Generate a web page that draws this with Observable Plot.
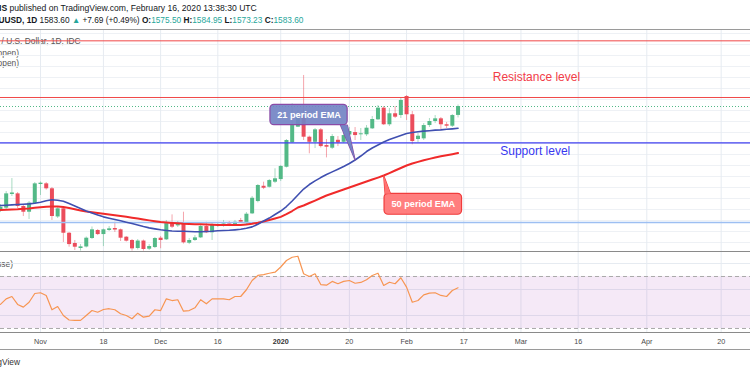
<!DOCTYPE html>
<html><head><meta charset="utf-8">
<script src="https://cdn.jsdelivr.net/npm/d3@7"></script>
<script src="https://cdn.jsdelivr.net/npm/@observablehq/plot@0.6"></script>
<style>
html,body{margin:0;padding:0;background:#fff;}
body{width:750px;height:375px;overflow:hidden;position:relative;font-family:"Liberation Sans",Arial,sans-serif;color:#131722;}
.a{position:absolute;white-space:nowrap;}
.hl{position:absolute;left:0;width:750px;}
.t{color:#26a69a;}
.lg{font-size:8.4px;color:#555;}
svg{background:transparent !important;}
</style></head><body>
<div class="a" id="h1" style="left:-1px;top:2.5px;font-size:8.6px;"><b>IS</b> published on TradingView.com, February 16, 2020 13:38:30 UTC</div>
<div class="a" id="h2" style="left:-13px;top:15px;font-size:8.3px;"><b>XAUUSD, 1D</b> 1583.60 <span class="t">▲</span> +7.69 (+0.49%) <b>O:</b><span class="t">1575.50</span> <b>H:</b><span class="t">1584.95</span> <b>L:</b><span class="t">1573.23</span> <b>C:</b><span class="t">1583.60</span></div>
<div class="hl" style="top:28.5px;height:1px;background:#9a9a9a;"></div>
<div class="a lg" style="left:1.5px;top:35.5px;">/ U.S. Dollar, 1D, IDC</div>
<div class="a lg" style="right:731px;top:47.5px;">EMA (21, open)</div>
<div class="a lg" style="right:731px;top:57.5px;">EMA (50, open)</div>
<div class="a lg" style="right:737px;top:258.5px;">RSI (14, close)</div>
<div class="a" id="main" style="left:0;top:30px;"></div>
<div class="hl" style="top:251px;height:1px;background:#8a8a8a;"></div>
<div class="a" id="rsi" style="left:0;top:252px;"></div>
<div class="hl" style="top:331.5px;height:1px;background:#8a8a8a;"></div>
<div class="hl" style="top:349px;height:1px;background:#9a9a9a;"></div>
<div class="a" style="right:730px;top:357px;font-size:8.4px;color:#333;">TradingView</div>
<script>
// ---- data (bar index 0 = 1 Nov 2019, weekdays only) ----
const bars = d3.range(-7, 74);
const opens = [1488.5,1491.2,1503.6,1504.2,1492.7,1487.5,1495.4,1512.7,1513.3,1508.8,1483.2,1490.6,1468.4,1459.1,1454.5,1455.9,1463.6,1470.9,1467.2,1470.9,1472.7,1471.5,1464.8,1461.8,1454.5,1461.3,1453.9,1455.4,1463.9,1462.4,1477.5,1475.1,1476.9,1459.3,1461.8,1464.2,1474.5,1468.8,1475.4,1476.1,1476.9,1475.4,1480.0,1476.9,1486.0,1497.2,1511.1,1510.2,1514.8,1517.2,1528.4,1550.6,1564.8,1573.9,1555.7,1551.1,1562.4,1548.1,1545.7,1552.9,1551.1,1557.7,1559.9,1557.9,1557.9,1563.3,1571.5,1582.1,1567.0,1577.0,1575.4,1592.7,1576.1,1553.6,1554.2,1566.3,1570.0,1572.4,1567.0,1565.7,1575.5];
const highs = [1494.5,1506.3,1518.1,1505.4,1493.6,1497.2,1514.5,1515.0,1514.5,1510.0,1491.8,1491.8,1469.1,1461.8,1458.1,1465.0,1474.1,1471.8,1472.2,1474.5,1478.4,1472.2,1465.4,1462.7,1462.7,1462.2,1458.1,1464.5,1465.4,1480.0,1485.1,1479.1,1487.5,1463.6,1466.3,1476.3,1478.4,1477.7,1478.2,1480.0,1479.1,1480.0,1481.8,1487.2,1501.8,1512.7,1514.8,1517.2,1527.0,1530.0,1553.6,1586.0,1580.0,1611.8,1556.7,1563.6,1563.6,1553.6,1558.1,1556.3,1559.1,1564.5,1564.5,1563.6,1566.3,1574.5,1584.5,1583.6,1581.8,1583.6,1590.9,1593.6,1579.1,1559.1,1568.1,1572.7,1575.4,1573.6,1569.1,1576.3,1584.95];
const lows = [1487.2,1489.9,1501.8,1490.9,1483.6,1480.9,1494.5,1502.7,1507.6,1480.0,1481.8,1460.0,1455.7,1452.7,1452.2,1455.0,1462.7,1466.3,1456.3,1470.0,1469.1,1460.9,1460.4,1452.2,1453.2,1452.2,1452.7,1454.5,1454.3,1461.8,1472.7,1473.6,1458.6,1458.1,1460.9,1463.6,1468.1,1461.8,1473.6,1473.9,1474.5,1474.5,1477.3,1476.3,1485.4,1496.0,1508.1,1509.5,1513.6,1515.4,1527.7,1550.0,1564.5,1552.7,1540.6,1545.4,1545.9,1536.9,1544.5,1547.2,1550.0,1556.3,1552.7,1552.7,1556.3,1562.7,1570.9,1566.3,1565.4,1572.7,1572.7,1570.9,1548.8,1550.6,1552.7,1564.5,1568.1,1561.8,1563.6,1564.5,1573.23];
const closes = [1492.1,1504.2,1505.0,1492.7,1487.5,1495.7,1513.3,1513.9,1508.8,1483.6,1490.6,1468.4,1458.1,1455.7,1456.0,1463.9,1471.5,1467.2,1471.5,1472.4,1471.3,1463.9,1461.2,1454.2,1461.3,1453.6,1456.3,1463.6,1461.8,1477.5,1473.9,1476.9,1459.7,1461.8,1464.2,1474.5,1468.8,1476.1,1476.1,1476.6,1476.3,1478.4,1478.4,1485.7,1500.2,1511.8,1509.3,1516.3,1517.9,1529.1,1552.7,1566.3,1573.9,1555.7,1551.1,1562.4,1547.2,1546.6,1556.3,1550.6,1557.2,1560.9,1557.2,1558.8,1563.9,1571.8,1582.1,1567.0,1577.0,1573.9,1589.1,1576.1,1551.8,1556.6,1566.3,1570.0,1572.4,1567.0,1565.7,1575.4,1583.6];
const ema21 = [1493.6,1493.9,1494.2,1494.5,1494.8,1495.1,1495.7,1496.6,1497.9,1498.8,1498.4,1497.5,1495.4,1493.1,1490.9,1488.6,1486.8,1485.0,1483.3,1482.1,1480.9,1479.7,1478.4,1477.2,1475.9,1474.5,1473.3,1472.4,1471.5,1470.9,1470.4,1470.2,1470.2,1470.0,1469.7,1469.7,1470.0,1470.2,1470.6,1470.9,1471.1,1471.5,1472.0,1473.0,1474.2,1476.6,1479.5,1482.2,1485.4,1488.6,1492.7,1497.7,1503.1,1508.6,1512.7,1516.0,1519.0,1521.8,1524.2,1526.6,1529.1,1531.8,1535.0,1538.6,1542.7,1545.9,1548.6,1551.3,1553.6,1555.4,1557.2,1559.1,1560.0,1560.7,1561.2,1561.6,1562.1,1562.4,1562.9,1563.3,1563.8];
const ema50 = [1489.5,1489.7,1490.0,1490.2,1490.6,1490.9,1491.5,1492.1,1492.4,1492.7,1492.7,1492.2,1491.3,1490.2,1489.1,1488.1,1487.4,1486.8,1486.1,1485.4,1484.8,1484.0,1483.3,1482.5,1481.8,1480.9,1480.1,1479.3,1478.6,1478.1,1477.7,1477.4,1477.0,1476.8,1476.6,1476.5,1476.3,1476.1,1476.0,1475.9,1475.9,1475.9,1476.0,1476.3,1477.0,1477.9,1479.0,1480.4,1481.8,1483.3,1485.7,1488.6,1491.8,1493.6,1495.9,1498.1,1500.4,1502.7,1504.5,1506.3,1508.1,1510.0,1511.8,1513.6,1515.4,1517.2,1519.0,1520.9,1523.1,1525.4,1527.7,1530.0,1531.8,1533.3,1534.8,1536.0,1537.2,1538.3,1539.3,1540.3,1541.3];
const rsi = [48.5,52.8,54.6,48.5,46.4,50.2,56.9,57.5,55.4,44.4,46.9,40.0,36.5,36.2,36.2,40.0,43.8,42.5,44.6,45.2,44.4,41.3,40.0,37.5,41.8,38.7,39.5,44.4,43.8,52.8,51.5,52.1,43.3,43.8,45.9,52.1,49.0,52.8,52.8,52.8,52.1,54.6,54.6,59.8,66.9,70.8,71.5,72.5,73.3,77.3,82.3,84.8,85.6,72.1,70.0,72.1,63.8,63.3,66.2,64.4,66.2,66.9,64.8,65.4,67.5,70.8,72.5,63.1,65.6,64.4,69.0,61.8,50.2,51.5,55.9,57.2,57.5,55.4,54.6,59.2,61.3];
const tickBars = [0,11,21,31,42,54,64,74,84,94,106,119];
const tickLabels = ["Nov","18","Dec","16","2020","20","Feb","17","Mar","16","Apr","20"];
const levelPrices = [1643.3, 1591.8, 1550.6, 1478.1]; // top line, resistance, support, lower line
const lastClose = 1583.6;
const levelLabels = ["Resistance level", "Support level"];
const levelLabelBar = [86.7, 86.5];
const levelLabelPrice = [1610.2, 1543.2];
const calloutLabels = ["21 period EMA", "50 period EMA"];
const calloutBox = [[40.2, 53.7, 1566.6, 1585.1], [60.15, 73.7, 1485.2, 1504.2]]; // bar1, bar2, price1, price2
const calloutTipBar = [55, 60];
const calloutBaseBars = [[52.45, 53.65], [60.25, 61.2]];
const rsiBand = [30, 70];

// ---- scales / helpers ----
const xDomain = [-6.993, 124.13];
const W = 750;
const UP = "#53b987", DOWN = "#eb4d5c";
const candles = bars.map((b, i) => ({bar: b, o: opens[i], h: highs[i], l: lows[i], c: closes[i]}));
const ema21Data = bars.map((b, i) => ({bar: b, v: ema21[i]}));
const ema50Data = bars.map((b, i) => ({bar: b, v: ema50[i]}));
const rsiData = bars.map((b, i) => ({bar: b, v: rsi[i]}));
const bodyEnd = d => Math.abs(d.c - d.o) < 0.8 ? d.o + (d.c >= d.o ? 0.8 : -0.8) : d.c;
const upC = candles.filter(d => d.c >= d.o), dnC = candles.filter(d => d.c < d.o);
const gridPrices = d3.range(1460, 1660, 10);

const callouts = calloutLabels.map((t, k) => {
  const tipBar = calloutTipBar[k];
  const tipVal = (k === 0 ? ema21 : ema50)[bars.indexOf(tipBar)];
  const [b1, b2, p1, p2] = calloutBox[k];
  const baseP = k === 0 ? p1 : p2;
  const tail = [{x: calloutBaseBars[k][0], y: baseP}, {x: tipBar, y: tipVal}, {x: calloutBaseBars[k][1], y: baseP}];
  return {t, b1, b2, p1, p2, tail};
});
const calloutStyle = [{fill: "#7384c4", stroke: "#8a4aa6"}, {fill: "#ff7373", stroke: "#f03c3c"}];

const calloutMarks = callouts.flatMap((c, k) => [
  Plot.line(c.tail, {x: "x", y: "y", fill: calloutStyle[k].fill, fillOpacity: 0.92, stroke: calloutStyle[k].stroke, strokeWidth: 1.2, curve: "linear-closed"}),
  Plot.rect([c], {x1: "b1", x2: "b2", y1: "p1", y2: "p2", rx: 4, fill: calloutStyle[k].fill, fillOpacity: 0.92, stroke: calloutStyle[k].stroke, strokeWidth: 1.2}),
  Plot.line(c.tail, {x: "x", y: "y", fill: calloutStyle[k].fill, stroke: "none", curve: "linear-closed"}),
  Plot.text([c], {x: d => (d.b1 + d.b2) / 2, y: d => (d.p1 + d.p2) / 2, text: "t", fill: "white", fontSize: 9.2, fontWeight: "bold"})
]);

const main = Plot.plot({
  width: W, height: 221, margin: 0,
  style: {background: "transparent", fontFamily: "Liberation Sans, Arial, sans-serif"},
  x: {domain: xDomain, axis: null},
  y: {domain: [1451.8, 1652.7], axis: null},
  marks: [
    Plot.ruleY(gridPrices, {stroke: "#eef1f5", strokeWidth: 1}),
    Plot.ruleX(tickBars, {stroke: "#e6ebf1", strokeWidth: 1}),
    Plot.ruleX(upC, {x: "bar", y1: "l", y2: "h", stroke: UP, strokeOpacity: 0.5}),
    Plot.ruleX(dnC, {x: "bar", y1: "l", y2: "h", stroke: DOWN, strokeOpacity: 0.5}),
    Plot.ruleX(upC, {x: "bar", y1: "o", y2: bodyEnd, stroke: UP, strokeWidth: 4}),
    Plot.ruleX(dnC, {x: "bar", y1: "o", y2: bodyEnd, stroke: DOWN, strokeWidth: 4}),
    Plot.ruleY([levelPrices[0]], {stroke: "#f04848", strokeWidth: 1}),
    Plot.ruleY([levelPrices[1]], {stroke: "#f04848", strokeWidth: 1}),
    Plot.ruleY([lastClose], {stroke: UP, strokeWidth: 1, strokeDasharray: "1,2"}),
    Plot.ruleY([levelPrices[2]], {stroke: "#4040f0", strokeWidth: 1.3}),
    Plot.ruleY([levelPrices[3]], {stroke: "#9dbff2", strokeWidth: 1.5}),
    Plot.line(ema50Data, {x: "bar", y: "v", stroke: "#f02a2a", strokeWidth: 2}),
    Plot.line(ema21Data, {x: "bar", y: "v", stroke: "#3f4fb0", strokeWidth: 1.6}),
    Plot.text([0], {x: () => levelLabelBar[0], y: () => levelLabelPrice[0], text: () => levelLabels[0], fill: "#f23c48", fontSize: 12}),
    Plot.text([1], {x: () => levelLabelBar[1], y: () => levelLabelPrice[1], text: () => levelLabels[1], fill: "#3838f0", fontSize: 12}),
    ...calloutMarks
  ]
});
document.getElementById("main").appendChild(main);

const rsiPlot = Plot.plot({
  width: W, height: 97, marginTop: 0, marginBottom: 17, marginLeft: 0, marginRight: 0,
  style: {background: "transparent", fontFamily: "Liberation Sans, Arial, sans-serif"},
  x: {domain: xDomain, axis: null},
  y: {domain: [26.9, 88.46], axis: null},
  marks: [
    Plot.ruleY([40, 60, 80], {stroke: "#e6ebf1"}),
    Plot.ruleX(tickBars, {y1: 26.9, y2: 88.46, stroke: "#e6ebf1"}),
    Plot.rect([rsiBand], {x1: xDomain[0], x2: xDomain[1], y1: d => d[0], y2: d => d[1], fill: "#9c27b0", fillOpacity: 0.1}),
    Plot.ruleY(rsiBand, {stroke: "#a9a9a9", strokeDasharray: "4,3"}),
    Plot.line(rsiData, {x: "bar", y: "v", stroke: "#f79552", strokeWidth: 1.2}),
    Plot.text(tickBars.filter((d, i) => tickLabels[i] !== "2020"), {x: d => d, frameAnchor: "bottom", dy: 11, text: d => tickLabels[tickBars.indexOf(d)], fill: "#4a4a4a", fontSize: 7.2}),
    Plot.text(tickBars.filter((d, i) => tickLabels[i] === "2020"), {x: d => d, frameAnchor: "bottom", dy: 11, text: d => tickLabels[tickBars.indexOf(d)], fill: "#333", fontSize: 7.2, fontWeight: "bold"})
  ]
});
document.getElementById("rsi").appendChild(rsiPlot);
</script>
</body></html>
